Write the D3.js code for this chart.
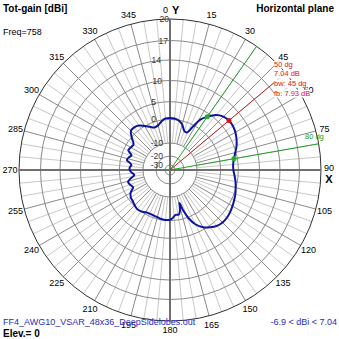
<!DOCTYPE html>
<html><head><meta charset="utf-8">
<script src="https://cdn.jsdelivr.net/npm/d3@7"></script>
<style>
html,body{margin:0;padding:0;background:#fff;}
svg{display:block;font-family:"Liberation Sans",Arial,sans-serif;}
</style></head>
<body>
<svg id="c" width="339" height="339"></svg>
<script>
// ---- data ----
const azimuth = [0,5,10,15,20,24,28,31,35,40,45,50,55,60,65,70,75,80,85,90,95,100,105,110,115,120,125,130,135,140,145,150,155,159,162,164,166,169,173,177,180,185,190,195,200,205,210,215,220,225,230,235,240,245,250,254,258,262,266,270,274,277,280,283,287,291,295,300,305,310,315,320,325,330,335,340,345,350,355];
const gainDbi = [0.4,0.3,-0.2,-1.5,-3.8,-4.1,-0.5,2.3,4.04,5.8,6.7,7.04,7.0,6.7,6.2,5.6,4.8,4.04,3.6,3.6,4.0,4.5,4.9,5.3,5.6,5.9,6.2,6.4,6.4,6.1,5.4,4.4,2.6,0.2,-3.5,-6.9,-4.0,-2.2,-2.3,-1.0,-0.4,-0.2,-0.4,-0.8,-1.0,-1.1,-0.8,-0.1,0.1,-0.3,-0.9,-1.2,-2.2,-4.2,-3.4,-3.0,-4.5,-6.2,-5.2,-4.4,-4.4,-5.0,-4.2,-2.7,-3.2,-4.0,-2.0,-2.3,-2.6,-0.4,1.3,1.4,1.0,0.0,-1.3,-2.3,-1.9,-0.6,0.3];
const ringValues = [20,17,14,10,5,0,-10,-20,-30];
const ringLabels = ["20","17","14","10","5","0","-10","-20","-30"];
const angleTicks = [0,15,30,45,60,75,90,105,120,135,150,165,180,195,210,225,240,255,270,285,300,315,330,345];
const angleLabels = ["0","15","30","45","60","75","90","105","120","135","150","165","180","195","210","225","240","255","270","285","300","315","330","345"];
const maxDir = 50, maxGain = 7.04;
const bwDirs = [35, 80];
const bwGain = 4.04;
const markerTexts = ["50 dg","7.04 dB","bw: 45 dg","fb: 7.93 dB"];
const bwLabel = "80 dg";
const title = "Tot-gain [dBi]", freqText = "Freq=758", planeText = "Horizontal plane";
const fileText = "FF4_AWG10_VSAR_48x36_DeepSidelobes.out";
const rangeText = "-6.9 < dBi < 7.04";
const elevText = "Elev.= 0";

// ---- layout ----
const cx = 170, cy = 170;
const svg = d3.select("#c");
const g = svg.append("g").attr("transform", `translate(${cx},${cy})`);
const r = d3.scaleLinear()
  .domain([-30,-20,-10,0,5,10,14,17,20])
  .range([5,14,27,50.7,68.3,89.5,110,129.5,151]).clamp(true);
const R = r(20);
const ang = d3.scaleLinear().domain([0,360]).range([0,2*Math.PI]);
const px = (a, rr) => rr*Math.sin(ang(a));
const py = (a, rr) => -rr*Math.cos(ang(a));

// radials every 5 deg
const fine = d3.range(0,360,5);
g.selectAll("line.fine").data(fine.filter(a=>a%15!==0)).join("line")
  .attr("x1",a=>px(a,r(-10))).attr("y1",a=>py(a,r(-10)))
  .attr("x2",a=>px(a,R)).attr("y2",a=>py(a,R))
  .attr("stroke","#c8c8c8").attr("stroke-width",1);
g.selectAll("line.major").data(angleTicks.filter(a=>a%90!==0)).join("line")
  .attr("x1",a=>px(a,r(-10))).attr("y1",a=>py(a,r(-10)))
  .attr("x2",a=>px(a,R)).attr("y2",a=>py(a,R))
  .attr("stroke","#8a8a8a").attr("stroke-width",1);
// rings
g.selectAll("circle.ring").data(ringValues).join("circle")
  .attr("r",d=>r(d)).attr("fill","none")
  .attr("stroke",(d,i)=>i===0?"#303030":"#8a8a8a").attr("stroke-width",1);
// axes
g.append("line").attr("x1",0).attr("x2",0).attr("y1",-R).attr("y2",R).attr("stroke","#707070").attr("stroke-width",2);
g.append("line").attr("x1",-R).attr("x2",R).attr("y1",0).attr("y2",0).attr("stroke","#707070").attr("stroke-width",2);

// ring labels
const labelEnd = [-1,-2,-9,-8,-14,-14,-7,-7,-7];
g.selectAll("text.rl").data(ringValues).join("text")
  .attr("x",(d,i)=>labelEnd[i]).attr("y",d=>-r(d))
  .attr("text-anchor","end").attr("dominant-baseline","central")
  .attr("font-size","8.5px").attr("fill","#333").text((d,i)=>ringLabels[i]);

// angle labels
g.selectAll("text.al").data(angleTicks.filter(a=>a!==0 && a!==90)).join("text")
  .attr("x",a=>px(a,R+9)).attr("y",a=>py(a,R+9))
  .attr("text-anchor","middle").attr("dominant-baseline","central")
  .attr("font-size","9px").attr("fill","#000")
  .text(a=>angleLabels[angleTicks.indexOf(a)]);
g.append("text").attr("x",px(0,R+9)-2).attr("y",py(0,R+9)).attr("text-anchor","end")
  .attr("dominant-baseline","central").attr("font-size","9px").text(angleLabels[0]);
g.append("text").attr("x",px(0,R+9)+2).attr("y",py(0,R+9)).attr("text-anchor","start")
  .attr("dominant-baseline","central").attr("font-size","11px").attr("font-weight","bold").text("Y");
g.append("text").attr("x",px(90,R+8)).attr("y",py(90,R+8)-2).attr("text-anchor","middle")
  .attr("dominant-baseline","central").attr("font-size","9px").text(angleLabels[6]);
g.append("text").attr("x",px(90,R+8)).attr("y",py(90,R+8)+9).attr("text-anchor","middle")
  .attr("dominant-baseline","central").attr("font-size","11px").attr("font-weight","bold").text("X");

// marker lines
bwDirs.forEach(a=>{
  g.append("line").attr("x1",0).attr("y1",0).attr("x2",px(a,R)).attr("y2",py(a,R))
    .attr("stroke","#22a022").attr("stroke-width",1);
});
g.append("line").attr("x1",0).attr("y1",0).attr("x2",px(maxDir,137)).attr("y2",py(maxDir,137))
  .attr("stroke","#c02020").attr("stroke-width",1);

// pattern
const pts = azimuth.map((a,i)=>({a, v:gainDbi[i]}));
const line = d3.lineRadial().angle(d=>ang(d.a)).radius(d=>r(d.v)).curve(d3.curveCatmullRomClosed.alpha(0.5));
g.append("path").attr("d",line(pts)).attr("fill","none").attr("stroke","#0a14a0").attr("stroke-width",2);

// dots
bwDirs.forEach(a=>{
  g.append("circle").attr("cx",px(a,r(bwGain))).attr("cy",py(a,r(bwGain))).attr("r",2.5).attr("fill","#20b020");
});
g.append("circle").attr("cx",px(maxDir,r(maxGain))).attr("cy",py(maxDir,r(maxGain))).attr("r",2.5).attr("fill","#e01010");

// marker texts (with white background, as in the source program)
const mk = svg.append("g");
markerTexts.forEach((t,i)=>{
  const tx = mk.append("text").attr("x",274).attr("y",66.5+i*9.7).attr("font-size","7.5px").attr("fill","#e01010").text(t);
  const bb = tx.node().getBBox();
  mk.insert("rect","text").attr("x",bb.x).attr("y",bb.y+1).attr("width",bb.width).attr("height",bb.height-1).attr("fill","#fff");
});
svg.append("text").attr("x",305).attr("y",139).attr("font-size","7.5px").attr("fill","#20a020").text(bwLabel);

// titles
svg.append("text").attr("x",3).attr("y",12).attr("font-size","10px").attr("font-weight","bold").text(title);
svg.append("text").attr("x",3).attr("y",35).attr("font-size","9px").text(freqText);
svg.append("text").attr("x",334).attr("y",12).attr("text-anchor","end").attr("font-size","10px").attr("font-weight","bold").text(planeText);
svg.append("text").attr("x",3).attr("y",325).attr("font-size","9px").attr("fill","#2b2bc0").text(fileText);
svg.append("text").attr("x",337).attr("y",325).attr("text-anchor","end").attr("font-size","9px").attr("fill","#2b2bc0").text(rangeText);
svg.append("text").attr("x",3).attr("y",337).attr("font-size","10px").attr("font-weight","bold").text(elevText);
</script>
</body></html>
